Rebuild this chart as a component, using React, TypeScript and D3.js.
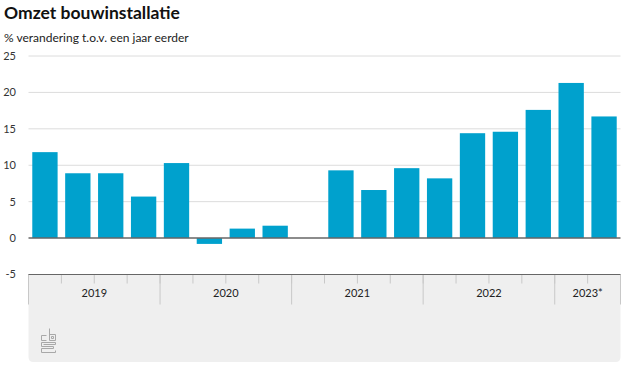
import React, { useEffect } from 'react';
import * as d3 from 'd3';

const quarters = [
  '2019K1', '2019K2', '2019K3', '2019K4',
  '2020K1', '2020K2', '2020K3', '2020K4',
  '2021K1', '2021K2', '2021K3', '2021K4',
  '2022K1', '2022K2', '2022K3', '2022K4',
  '2023K1', '2023K2',
];
const values: (number | null)[] = [
  11.8, 8.9, 8.9, 5.7,
  10.3, -0.8, 1.3, 1.7,
  null, 9.3, 6.6, 9.6,
  8.2, 14.4, 14.6, 17.6,
  21.3, 16.7,
];
const yearLabels = ['2019', '2020', '2021', '2022', '2023*'];
const yearQuarters = [4, 4, 4, 4, 2];
const yTicks = [-5, 0, 5, 10, 15, 20, 25];

const width = 626;
const height = 370;
const left = 28.5;
const right = 620.5;
const font = 'Lato, "Noto Sans", sans-serif';

const App = () => {
  useEffect(() => {
    document.body.style.margin = '0';
  }, []);

  const x = d3.scaleBand<string>()
    .domain(quarters)
    .range([left, right])
    .paddingInner(0.23)
    .paddingOuter(0.115);

  const y = d3.scaleLinear().domain([-5, 25]).range([274.5, 56]);

  // year group boundaries
  let acc = 0;
  const groups = yearLabels.map((label, i) => {
    const start = acc;
    acc += yearQuarters[i];
    const x0 = left + x.step() * start;
    const x1 = left + x.step() * acc;
    return { label, start, x0, x1 };
  });

  const boxBottom = 362;

  return (
    <svg width={width} height={height} style={{ display: 'block', fontFamily: font }}>
      <text x={4} y={19} fontSize={17.5} fontWeight={700} fill="#111">Omzet bouwinstallatie</text>
      <text x={4} y={42} fontSize={12} fill="#222">% verandering t.o.v. een jaar eerder</text>

      {/* grid */}
      {yTicks.filter(t => t > 0).map(t => (
        <line key={t} x1={left} x2={right} y1={y(t)} y2={y(t)} stroke="#dcdcdc" strokeWidth={1} />
      ))}
      {yTicks.map(t => (
        <text key={'l' + t} x={16} y={y(t)} dy="0.35em" textAnchor="end" fontSize={11} fill="#333">{t}</text>
      ))}

      {/* x axis box */}
      <path
        d={`M${left},${y(-5)} H${right} V${boxBottom - 5} Q${right},${boxBottom} ${right - 5},${boxBottom} H${left + 5} Q${left},${boxBottom} ${left},${boxBottom - 5} Z`}
        fill="#efefef"
      />
      {quarters.map((q, i) => (
        <line key={'q' + q} x1={left + x.step() * i} x2={left + x.step() * i} y1={y(-5)} y2={y(-5) + 9} stroke="#c8c8c8" />
      ))}
      {groups.map(g => (
        <line key={'g' + g.label} x1={g.x0} x2={g.x0} y1={y(-5)} y2={y(-5) + 30} stroke="#c8c8c8" />
      ))}
      <line x1={right} x2={right} y1={y(-5)} y2={y(-5) + 30} stroke="#c8c8c8" />
      {groups.map(g => (
        <text key={'t' + g.label} x={(g.x0 + g.x1) / 2} y={y(-5) + 19} dy="0.35em" textAnchor="middle" fontSize={11} fill="#222">{g.label}</text>
      ))}
      <line x1={left} x2={right} y1={y(-5)} y2={y(-5)} stroke="#666" strokeWidth={1.2} />

      {/* bars */}
      {quarters.map((q, i) => {
        const v = values[i];
        if (v === null) return null;
        return (
          <rect key={q} x={x(q)} width={x.bandwidth()} y={y(Math.max(0, v))} height={Math.abs(y(v) - y(0))} fill="#00a1cd" />
        );
      })}
      <line x1={left} x2={right} y1={y(0)} y2={y(0)} stroke="#666" strokeWidth={1.5} />

      {/* cbs logo */}
      <g fill="none" stroke="#a8a8a8" strokeWidth={1}>
        <path d="M41.5,335.5 H46.5 M41.5,335.5 V340.5 H46.5" />
        <path d="M49.5,328.5 V340.5 H55.5 V334.5 H49.5" />
        <path d="M51.5,336.5 H53.5 V338.5 H51.5 Z" />
        <path d="M55.5,342.5 H41.5 V346.5 H53.5 V348.5 H41.5 V352.5 H55.5 V350.5 M55.5,342.5 V344.5 H43.5" />
      </g>
    </svg>
  );
};

export default App;
